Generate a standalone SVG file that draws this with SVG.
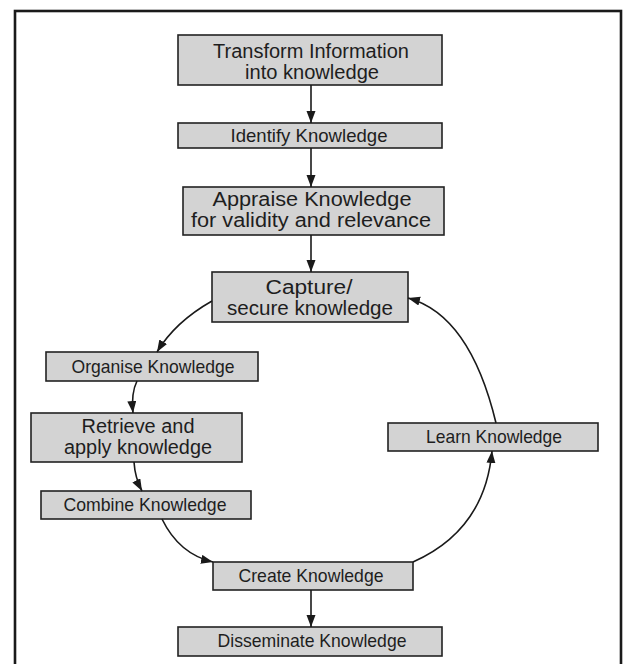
<svg xmlns="http://www.w3.org/2000/svg" width="626" height="664" viewBox="0 0 626 664">
<defs>
<style>
.box{fill:#d3d3d3;stroke:#222;stroke-width:1.6}
.t{font-family:"Liberation Sans",Arial,sans-serif;fill:#1e1e1e;text-anchor:middle}
.s{font-size:19px}
.m{font-size:19.5px}
.c{fill:none;stroke:#1a1a1a;stroke-width:1.6}
</style>
<marker id="ah" markerUnits="userSpaceOnUse" markerWidth="13" markerHeight="10" refX="12" refY="4.5" orient="auto">
<path d="M0,0 L12,4.5 L0,9 Z" fill="#1a1a1a"/>
</marker>
</defs>
<rect x="0" y="0" width="626" height="664" fill="#fff"/>
<rect id="frame" x="15" y="11" width="606" height="700" fill="#fff" stroke="#1a1a1a" stroke-width="2.6"/>

<g id="transform"><rect class="box" x="178" y="35" width="264" height="50"/><text class="t m" x="311" y="58" textLength="196" lengthAdjust="spacingAndGlyphs">Transform Information</text><text class="t m" x="312" y="79" textLength="134" lengthAdjust="spacingAndGlyphs">into knowledge</text></g>
<g id="identify"><rect class="box" x="178" y="123" width="264" height="25"/><text class="t s" x="309" y="142" textLength="157" lengthAdjust="spacingAndGlyphs">Identify Knowledge</text></g>
<g id="appraise"><rect class="box" x="183" y="187" width="261" height="48"/><text class="t m" x="312" y="206" textLength="199" lengthAdjust="spacingAndGlyphs">Appraise Knowledge</text><text class="t m" x="311" y="227" textLength="240" lengthAdjust="spacingAndGlyphs">for validity and relevance</text></g>
<g id="capture"><rect class="box" x="212" y="272" width="196" height="50"/><text class="t m" x="309" y="294" textLength="87" lengthAdjust="spacingAndGlyphs">Capture/</text><text class="t m" x="310" y="315" textLength="166" lengthAdjust="spacingAndGlyphs">secure knowledge</text></g>
<g id="organise"><rect class="box" x="46" y="352" width="212" height="29"/><text class="t s" x="153" y="373" textLength="163" lengthAdjust="spacingAndGlyphs">Organise Knowledge</text></g>
<g id="retrieve"><rect class="box" x="31" y="413" width="211" height="49"/><text class="t m" x="138" y="433" textLength="113" lengthAdjust="spacingAndGlyphs">Retrieve and</text><text class="t m" x="138" y="454" textLength="148" lengthAdjust="spacingAndGlyphs">apply knowledge</text></g>
<g id="combine"><rect class="box" x="41" y="491" width="210" height="28"/><text class="t s" x="145" y="511" textLength="163" lengthAdjust="spacingAndGlyphs">Combine Knowledge</text></g>
<g id="create"><rect class="box" x="213" y="562" width="200" height="28"/><text class="t s" x="311" y="582" textLength="145" lengthAdjust="spacingAndGlyphs">Create Knowledge</text></g>
<g id="disseminate"><rect class="box" x="178" y="627" width="264" height="29"/><text class="t s" x="312" y="647" textLength="189" lengthAdjust="spacingAndGlyphs">Disseminate Knowledge</text></g>
<g id="learn"><rect class="box" x="388" y="423" width="210" height="28"/><text class="t s" x="494" y="443" textLength="136" lengthAdjust="spacingAndGlyphs">Learn Knowledge</text></g>

<g id="connectors">
<path class="c" d="M311,85 L311,123" marker-end="url(#ah)"/>
<path class="c" d="M311,148 L311,187" marker-end="url(#ah)"/>
<path class="c" d="M311,235 L311,272" marker-end="url(#ah)"/>
<path class="c" d="M212,301 Q175,322 157,352" marker-end="url(#ah)"/>
<path class="c" d="M137,381 Q131,393 133,413" marker-end="url(#ah)"/>
<path class="c" d="M134,462 Q135,478 142,491" marker-end="url(#ah)"/>
<path class="c" d="M162,519 Q179,554 213,562" marker-end="url(#ah)"/>
<path class="c" d="M413,562 Q485,530 492,451" marker-end="url(#ah)"/>
<path class="c" d="M496,423 Q470,315 408,298" marker-end="url(#ah)"/>
<path class="c" d="M311,590 L311,627" marker-end="url(#ah)"/>
</g>
</svg>
